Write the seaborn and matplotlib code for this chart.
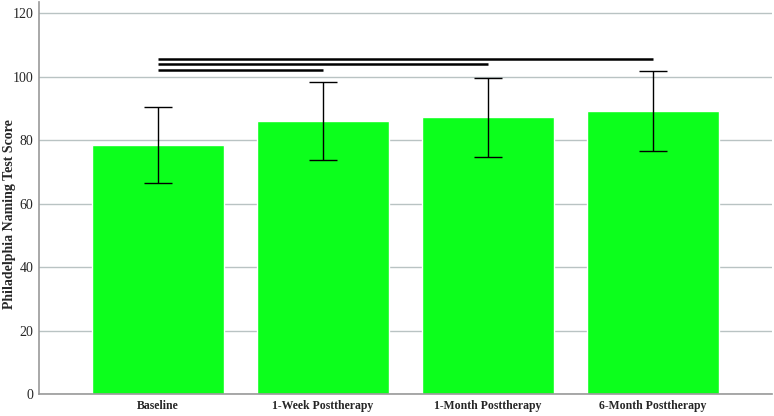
import matplotlib
matplotlib.use('Agg')
import seaborn as sns
import matplotlib.pyplot as plt
import pandas as pd

# values
phases = ["Baseline", "1-Week Posttherapy", "1-Month Posttherapy", "6-Month Posttherapy"]
meanScores = [78.5, 86.0, 87.2, 89.2]
sdScores = [12.0, 12.3, 12.5, 12.6]
# significance brackets: (from, to, height)
sigPairs = [(0, 1, 102.1), (0, 2, 104.0), (0, 3, 105.8)]
yTicks = [0, 20, 40, 60, 80, 100, 120]

sns.set_style("white")
plt.rcParams['font.family'] = ['Liberation Serif', 'DejaVu Serif']

df = pd.DataFrame({"phase": phases, "score": meanScores})

fig = plt.figure(figsize=(7.74, 4.16), dpi=100)
ax = fig.add_axes([0.0504, 0.053, 0.947, 0.942])

sns.barplot(ax=ax, data=df, x="phase", y="score", color="#0CFF1C", saturation=1, width=0.8, zorder=2)
ax.errorbar(range(len(phases)), meanScores, yerr=sdScores, fmt='none', ecolor='black',
            elinewidth=1, capsize=10, capthick=1, zorder=3)

for a, b, h in sigPairs:
    ax.plot([a, b], [h, h], color='black', lw=1.8, solid_capstyle='butt', zorder=3)

ax.set_xlim(-0.72, 3.72)
ax.set_ylim(0, 123.6)
ax.set_yticks(yTicks)
ax.yaxis.grid(True, color='#b9c3c3', lw=1, zorder=0)
ax.set_axisbelow(True)
ax.tick_params(axis='y', length=0, labelsize=10, pad=4)
ax.tick_params(axis='x', length=0, labelsize=8.5, pad=4)
for lab in ax.get_xticklabels():
    lab.set_fontweight('bold')
ax.set_xlabel("")
ax.set_ylabel("Philadelphia Naming Test Score", fontsize=10, fontweight='bold')
ax.yaxis.set_label_coords(-0.031, 0.46)

for s in ['top', 'right']:
    ax.spines[s].set_visible(False)
for s in ['left', 'bottom']:
    ax.spines[s].set_color('#999999')
    ax.spines[s].set_linewidth(1.2)

plt.savefig("out.png", dpi=100)
